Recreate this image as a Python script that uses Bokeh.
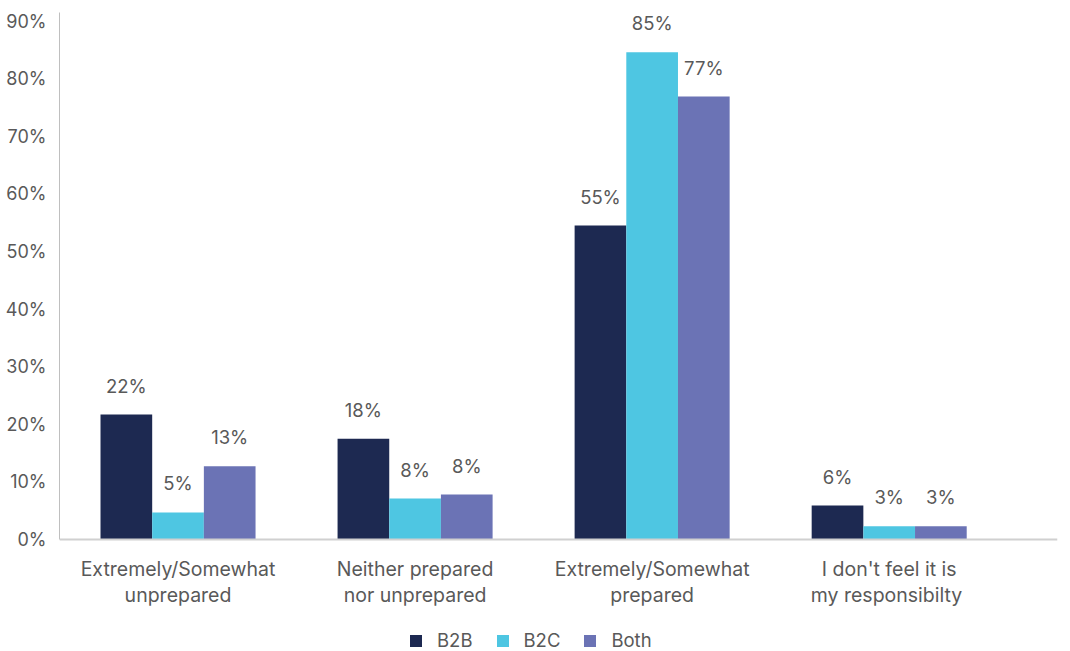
from bokeh.plotting import figure
from bokeh.models import ColumnDataSource, FixedTicker, Range1d, Legend, LegendItem, Span
from bokeh.core.properties import value
from bokeh.embed import file_html
from bokeh.resources import INLINE

categories = ["Extremely/Somewhat\nunprepared", "Neither prepared\nnor unprepared",
              "Extremely/Somewhat\nprepared", "I don't feel it is\nmy  responsibilty"]
series = ["B2B", "B2C", "Both"]
b2b = [21.7, 17.5, 54.5, 5.9]
b2c = [4.7, 7.1, 84.6, 2.3]
both = [12.7, 7.8, 76.9, 2.3]
b2b_labels = ["22%", "18%", "55%", "6%"]
b2c_labels = ["5%", "8%", "85%", "3%"]
both_labels = ["13%", "8%", "77%", "3%"]
y_ticks = [0, 10, 20, 30, 40, 50, 60, 70, 80, 90]
y_tick_labels = ["0%", "10%", "20%", "30%", "40%", "50%", "60%", "70%", "80%", "90%"]

colors = ["#1d2951", "#4ec6e2", "#6b73b5"]
FONT = "Inter"
TXT = "#595959"

# frame covers the full height; the value axis 0..91.5 occupies the upper 527 px
p = figure(width=1070, height=651, output_backend="svg", toolbar_location=None,
           x_range=Range1d(0, 4.21), y_range=Range1d(-19.45, 91.5),
           x_axis_location=None,
           min_border_left=59, min_border_right=13, min_border_top=12, min_border_bottom=0)
p.outline_line_color = None
p.xgrid.visible = False
p.ygrid.visible = False

bw = 0.218
offsets = [-bw, 0, bw]
renderers = []
for vals, labs, off, col in zip([b2b, b2c, both], [b2b_labels, b2c_labels, both_labels], offsets, colors):
    xs = [i + 0.5 + off for i in range(len(categories))]
    src = ColumnDataSource(dict(x=xs, top=vals, lab=labs))
    r = p.vbar(x="x", top="top", width=bw, source=src, fill_color=col, line_color=None)
    renderers.append(r)
    p.text(x="x", y="top", text="lab", source=src, text_align="center", text_baseline="middle",
           y_offset=-29, text_font=value(FONT), text_font_size="18.5px", text_color=TXT)

# category axis line and labels
p.add_layout(Span(location=0, dimension="width", line_color="#d0d0d0", line_width=2))
cat_src = ColumnDataSource(dict(x=[i + 0.5 for i in range(len(categories))],
                                y=[0] * len(categories), t=categories))
p.text(x="x", y="y", text="t", source=cat_src, text_align="center", text_baseline="top",
       y_offset=18, text_font=value(FONT), text_font_size="19.5px", text_color=TXT,
       text_line_height=1.05)

# value axis
p.yaxis.ticker = FixedTicker(ticks=y_ticks)
p.yaxis.major_label_overrides = {t: l for t, l in zip(y_ticks, y_tick_labels)}
p.yaxis.bounds = (0, 91.5)
p.yaxis.axis_line_color = "#bfbfbf"
p.yaxis.major_tick_line_color = None
p.yaxis.minor_tick_line_color = None
p.yaxis.major_label_standoff = 7
p.yaxis.major_label_text_font = FONT
p.yaxis.major_label_text_font_size = "18px"
p.yaxis.major_label_text_color = TXT

legend = Legend(items=[LegendItem(label=s, renderers=[r]) for s, r in zip(series, renderers)],
                orientation="horizontal", location=(349, 0),
                glyph_width=15, glyph_height=15, label_standoff=14, spacing=22,
                padding=0, margin=0, border_line_color=None, background_fill_alpha=0,
                label_text_font=FONT, label_text_font_size="18.5px", label_text_color=TXT)
p.add_layout(legend, "center")

open("out.html", "w").write(file_html(p, INLINE))
